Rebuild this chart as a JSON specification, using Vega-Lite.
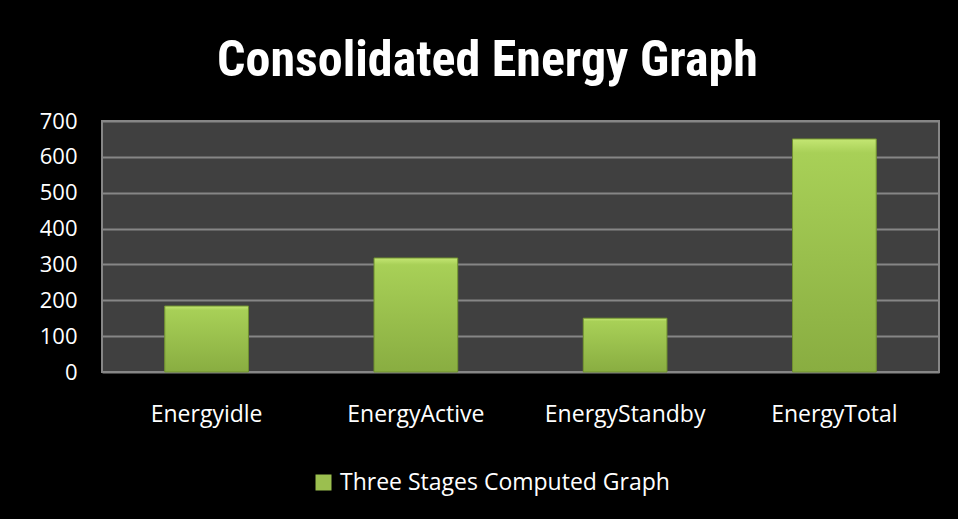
{
  "$schema": "https://vega.github.io/schema/vega-lite/v6.json",
  "autosize": {"type": "none"},
  "width": 837,
  "height": 251,
  "padding": {"left": 102, "top": 121, "right": 19, "bottom": 147},
  "background": "#000000",
  "title": {
    "text": "Consolidated Energy Graph",
    "font": "Liberation Sans Narrow, Roboto Condensed, Arial Narrow, sans-serif",
    "fontWeight": "bold",
    "fontSize": 50,
    "color": "#ffffff",
    "anchor": "middle",
    "dx": -33,
    "dy": 58,
    "offset": 42,
    "baseline": "alphabetic"
  },
  "data": {
    "values": [
      {"category": "Energyidle", "value": 184, "series": "Three Stages Computed Graph"},
      {"category": "EnergyActive", "value": 318, "series": "Three Stages Computed Graph"},
      {"category": "EnergyStandby", "value": 150, "series": "Three Stages Computed Graph"},
      {"category": "EnergyTotal", "value": 650, "series": "Three Stages Computed Graph"}
    ]
  },
  "config": {
    "font": "Open Sans",
    "view": {"fill": "#404040", "stroke": "#868686", "strokeWidth": 2}
  },
  "encoding": {
    "x": {
      "field": "category",
      "type": "nominal",
      "sort": null,
      "scale": {"paddingInner": 0.6, "paddingOuter": 0.3},
      "axis": {
        "title": null,
        "labelAngle": 0,
        "labelColor": "#ffffff",
        "labelFont": "Open Sans",
        "labelFontSize": 23,
        "labelPadding": 31,
        "labelLimit": 0,
        "ticks": false,
        "domain": false,
        "grid": false
      }
    },
    "y": {
      "field": "value",
      "type": "quantitative",
      "scale": {"domain": [0, 700], "nice": false},
      "axis": {
        "title": null,
        "values": [0, 100, 200, 300, 400, 500, 600, 700],
        "grid": true,
        "gridColor": "#868686",
        "gridWidth": 2,
        "labelColor": "#ffffff",
        "labelFont": "Open Sans",
        "labelFontSize": 22,
        "labelPadding": 25,
        "ticks": false,
        "domain": false
      }
    }
  },
  "layer": [
    {
      "mark": {"type": "bar"},
      "encoding": {
        "color": {
          "field": "series",
          "type": "nominal",
          "scale": {"range": ["#9bbf4f"]},
          "legend": {
            "orient": "none",
            "legendX": 210,
            "legendY": 350,
            "title": null,
            "direction": "horizontal",
            "labelColor": "#ffffff",
            "labelFont": "Open Sans",
            "labelFontSize": 23,
            "labelLimit": 0,
            "symbolType": "square",
            "symbolSize": 256,
            "symbolStrokeWidth": 0,
            "symbolOpacity": 1,
            "labelOffset": 5
          }
        }
      }
    },
    {
      "mark": {
        "type": "bar",
        "color": {
          "gradient": "linear",
          "x1": 0, "y1": 0, "x2": 0, "y2": 1,
          "stops": [
            {"offset": 0, "color": "#c4e673"},
            {"offset": 0.06, "color": "#a8d057"},
            {"offset": 1, "color": "#89ad41"}
          ]
        },
        "stroke": "#6f8f30",
        "strokeWidth": 1
      }
    }
  ]
}
